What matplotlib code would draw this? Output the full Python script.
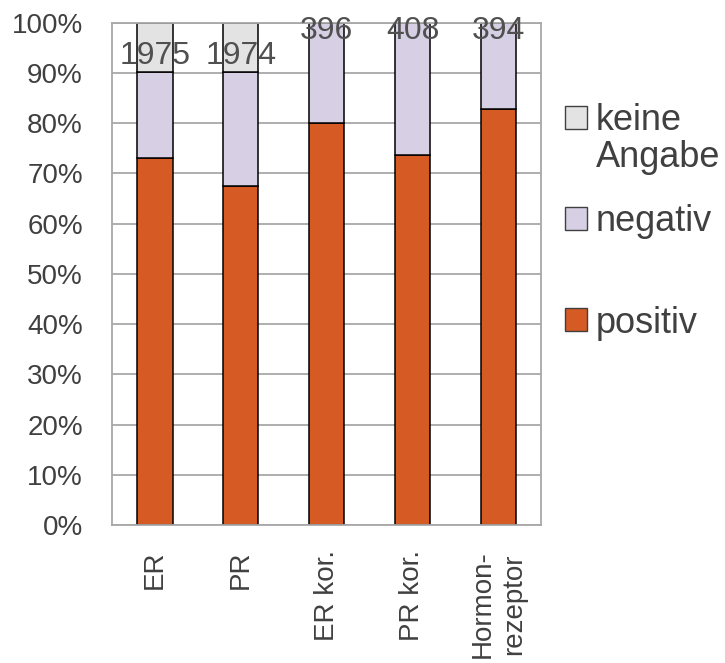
import matplotlib
matplotlib.use("Agg")
import matplotlib.pyplot as plt
from matplotlib.patches import Patch
from matplotlib.ticker import PercentFormatter
import numpy as np

# data (percent of cases)
categories = ["ER", "PR", "ER kor.", "PR kor.", "Hormon-\nrezeptor"]
positiv = [73.1, 67.5, 80.1, 73.7, 82.7]
negativ = [17.1, 22.7, 19.9, 26.3, 17.3]
keine_angabe = [9.8, 9.8, 0.0, 0.0, 0.0]
totals = [1975, 1974, 396, 408, 394]

col_pos = "#D55A23"
col_neg = "#D7CFE4"
col_keine = "#E3E3E3"
txt = "#404040"
grid_col = "#A8A8A8"

plt.rcParams["font.family"] = ["Liberation Sans", "DejaVu Sans"]

fig = plt.figure(figsize=(7.25, 6.63), dpi=100)
ax = fig.add_axes([0.1545, 0.208, 0.592, 0.758])

x = np.arange(len(categories))
w = 0.41
pos = np.array(positiv)
neg = np.array(negativ)
kei = np.array(keine_angabe)

ax.bar(x, pos, w, color=col_pos, edgecolor="black", linewidth=1.1, zorder=2)
ax.bar(x, neg, w, bottom=pos, color=col_neg, edgecolor="black", linewidth=1.1, zorder=2)
ax.bar(x, kei, w, bottom=pos + neg, color=col_keine, edgecolor="black", linewidth=1.1, zorder=2)

for xi, b, h, n in zip(x, pos + neg, kei, totals):
    ax.annotate(str(n), (xi, b + h / 2), xytext=(0, -6), textcoords="offset points",
                ha="center", va="center", fontsize=23, color="#505050", zorder=3)

ax.set_xlim(-0.5, len(categories) - 0.5)
ax.set_ylim(0, 100)
ax.set_yticks(np.arange(0, 101, 10))
ax.yaxis.set_major_formatter(PercentFormatter(decimals=0))
ax.set_xticks(x)
ax.set_xticklabels(categories, rotation=90, linespacing=1.3)
ax.tick_params(axis="y", length=0, pad=21, labelsize=20, labelcolor=txt)
ax.tick_params(axis="x", length=0, pad=18, labelsize=20, labelcolor=txt)
ax.grid(axis="y", color=grid_col, linewidth=1.3, zorder=0)
ax.set_axisbelow(True)
for s in ax.spines.values():
    s.set_color(grid_col)
    s.set_linewidth(1.3)

# legend entries, one small legend per row (uneven spacing as in the reference)
leg_rows = [
    ("keine", col_keine, 121),
    ("Angabe", None, 157),
    ("negativ", col_neg, 222),
    ("positiv", col_pos, 323),
]
for label, color, ypx in leg_rows:
    if color is None:
        h = Patch(facecolor="none", edgecolor="none")
    else:
        h = Patch(facecolor=color, edgecolor="#404040", linewidth=1.0)
    leg = fig.legend([h], [label], loc="center left",
                     bbox_to_anchor=(565 / 725, 1 - ypx / 663),
                     frameon=False, fontsize=26, handlelength=0.61, handleheight=0.61,
                     handletextpad=0.24, borderpad=0, borderaxespad=0)
    for t in leg.get_texts():
        t.set_color(txt)

fig.savefig("out.png", dpi=100)
